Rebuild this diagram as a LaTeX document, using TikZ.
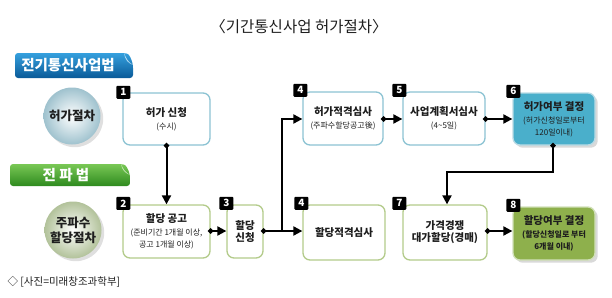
\documentclass[tikz,border=0pt]{standalone}
\usepackage{fontspec}
\setmainfont{Noto Sans CJK KR}
\usetikzlibrary{arrows.meta,shadows}
\definecolor{bluebd}{HTML}{8CC3D3}
\definecolor{greenbd}{HTML}{B3CB8A}
\definecolor{tealfill}{HTML}{4AAFCB}
\definecolor{olivefill}{HTML}{8EB04C}
\definecolor{bannerbT}{HTML}{35A0DE}
\definecolor{bannerbB}{HTML}{0A5A98}
\definecolor{bannergT}{HTML}{79C855}
\definecolor{bannergB}{HTML}{2E8A1E}
\definecolor{circb}{HTML}{9FC2CE}
\definecolor{circg}{HTML}{B2C29A}
\definecolor{txt}{HTML}{1E1E1E}
\newcommand{\mainfs}{\bfseries\fontsize{10.5}{13}\selectfont}
\newcommand{\subfs}{\fontsize{8}{9.5}\selectfont}
\begin{document}
\begin{tikzpicture}[x=1pt,y=-1pt,
  stepbox/.style={line width=1.3pt, rounded corners=7pt, inner sep=1pt, align=center, text=txt},
  tbox/.style={stepbox, draw=bluebd, fill=white},
  gbox/.style={stepbox, draw=greenbd, fill=white},
  numtag/.style={fill=black, text=white, font=\bfseries\fontsize{10}{10}\selectfont, minimum width=14pt, minimum height=13pt, inner sep=0pt, rounded corners=1pt},
  conn/.style={line width=2pt, {Circle[length=5pt]}-{Triangle[length=9pt,width=9pt]}, shorten <=-2.5pt},
  plain/.style={line width=2pt, -{Triangle[length=9pt,width=9pt]}},
  stadge/.style={circle, minimum size=57pt, inner sep=0pt, align=center, font=\bfseries\fontsize{12.5}{15}\selectfont, text=txt}
]
\useasboundingbox (0,0) rectangle (612,297);

% title
\node[font=\fontsize{15.5}{18}\selectfont, text=txt] (title) at (299,27) {〈기간통신사업 허가절차〉};

% banners
\shade[top color=bannerbT, bottom color=bannerbB, rounded corners=3pt]
  (15,53) -- (124,53) .. controls (129,54) and (131,58) .. (133,65) -- (133,78) -- (15,78) -- cycle;
\fill[bannerbT!40!white] (124,53) .. controls (126,58) and (128,62) .. (133,65) .. controls (128,63) and (125,60) .. (124,53) -- cycle;
\node[font=\bfseries\fontsize{14.5}{16}\selectfont, text=white] (lawA) at (68,65.5) {전기통신사업법};

\shade[top color=bannergT, bottom color=bannergB, rounded corners=3pt]
  (10,164) -- (121,164) .. controls (126,165) and (128,169) .. (130,175) -- (130,186) -- (10,186) -- cycle;
\fill[bannergT!40!white] (121,164) .. controls (123,169) and (125,172) .. (130,175) .. controls (125,173) and (122,170) .. (121,164) -- cycle;
\node[font=\bfseries\fontsize{14.5}{16}\selectfont, text=white] (lawB) at (66,175) {전 파 법};

% circles
\node[stadge, inner color=white, outer color=circb, drop shadow={opacity=0.25}] (procA) at (72,116) {허가절차};
\node[stadge, inner color=white, outer color=circg, drop shadow={opacity=0.25}] (procB) at (73,230) {주파수\\할당절차};

% top row boxes
\node[tbox, minimum width=87pt, minimum height=52pt] (b1) at (166.5,119) {{\mainfs 허가 신청}\\[1pt]{\subfs (수시)}};
\node[tbox, minimum width=80pt, minimum height=53pt] (b4) at (343,118.5) {{\mainfs 허가적격심사}\\[1pt]{\subfs (주파수할당공고後)}};
\node[tbox, minimum width=82pt, minimum height=53pt] (b5) at (444,118.5) {{\mainfs 사업계획서심사}\\[1pt]{\subfs (4\textasciitilde 5일)}};
\node[stepbox, draw=bluebd!60!white, fill=tealfill, minimum width=82pt, minimum height=52pt, drop shadow={opacity=0.3}] (b6) at (554,119) {{\mainfs 허가여부 결정}\\[1pt]{\subfs (허가신청일로부터}\\{\subfs 120일이내)}};

% bottom row boxes
\node[gbox, minimum width=87pt, minimum height=53pt] (b2) at (166.5,231.5) {{\mainfs 할당 공고}\\[1pt]{\subfs (준비기간 1개월 이상,}\\{\subfs 공고 1개월 이상)}};
\node[gbox, minimum width=36pt, minimum height=53pt] (b3) at (245,231.5) {\mainfs 할당\\\mainfs 신청};
\node[gbox, minimum width=82pt, minimum height=55pt] (b4b) at (344,232.5) {\mainfs 할당적격심사};
\node[gbox, minimum width=84pt, minimum height=55pt] (b7) at (445,232.5) {\mainfs 가격경쟁\\\mainfs 대가할당(경매)};
\node[stepbox, draw=greenbd!60!white, fill=olivefill, minimum width=82pt, minimum height=53pt, drop shadow={opacity=0.3}] (b8) at (554,233.5) {{\mainfs 할당여부 결정}\\[1pt]{\bfseries\subfs (할당신청일로 부터}\\{\bfseries\subfs 6개월 이내)}};

% number tags
\node[numtag] (n1) at ([xshift=1pt]b1.north west) {1};
\node[numtag] (n4) at ([xshift=-2pt,yshift=1pt]b4.north west) {4};
\node[numtag] (n5) at ([xshift=-3pt,yshift=1pt]b5.north west) {5};
\node[numtag] (n6) at ([xshift=1pt,yshift=1pt]b6.north west) {6};
\node[numtag] (n2) at ([xshift=1pt,yshift=1pt]b2.north west) {2};
\node[numtag] (n3) at ([xshift=0pt,yshift=1pt]b3.north west) {3};
\node[numtag] (n4b) at ([xshift=-1pt,yshift=1pt]b4b.north west) {4};
\node[numtag] (n7) at ([xshift=-3pt,yshift=1pt]b7.north west) {7};
\node[numtag] (n8) at ([xshift=1pt,yshift=1pt]b8.north west) {8};

% connectors
\coordinate (J) at (282,231);
\coordinate (K1) at (553,172);
\coordinate (K2) at (447,172);
\draw[conn] (b1.south) -- (b2.north);
\draw[conn] (b2.east |- 0,231) -- (b3.west |- 0,231);
\draw[line width=2pt, {Circle[length=5pt]}-, shorten <=-2.5pt] (b3.east |- 0,231) -- (J);
\draw[plain] (J) -- (b4b.west |- J);
\draw[plain] (J) -- (282,119) -- (b4.west |- 0,119);
\draw[conn] (b4.east |- 0,119) -- (b5.west |- 0,119);
\draw[conn] (b5.east |- 0,119) -- (b6.west |- 0,119);
\draw[conn] (b6.south -| K1) -- (K1) -- (K2) -- (b7.north -| K2);
\draw[conn] (b7.east |- 0,231) -- (b8.west |- 0,231);

% caption
\node[anchor=west, font=\fontsize{10.5}{13}\selectfont, text=txt] (cap) at (4,282) {◇ [사진=미래창조과학부]};
\end{tikzpicture}
\end{document}
